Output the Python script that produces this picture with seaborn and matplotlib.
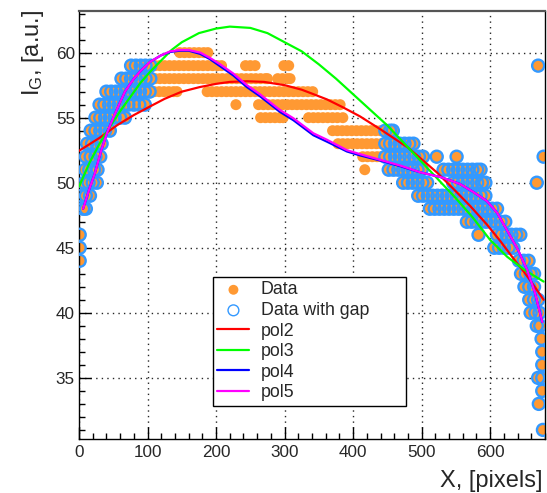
import matplotlib
matplotlib.use("Agg")
import matplotlib.pyplot as plt
from matplotlib.ticker import MultipleLocator
import numpy as np
import pandas as pd
import seaborn as sns

# ---------------- data ----------------
levels = [31, 33, 34, 35, 36, 37, 38, 39, 40, 41, 42, 43, 44, 45, 46, 47, 48, 49,
          50, 51, 52, 53, 54, 55, 56, 57, 58, 59, 60]
level_x = [
    [677],
    [671],
    [676],
    [670, 676],
    [676],
    [676],
    [675],
    [668, 673],
    [659, 666, 672],
    [657, 664, 670],
    [650, 657, 664],
    [645, 652, 659, 664],
    [1, 642, 649, 656],
    [1, 606, 613, 620, 627, 634],
    [1, 583, 610, 617, 624, 631, 638, 644],
    [566, 573, 580, 587, 594, 601, 608, 615, 622],
    [6, 10, 512, 519, 526, 533, 540, 547, 554, 561, 568, 575, 582, 589, 596, 603, 610],
    [4, 10, 16, 495, 502, 509, 516, 523, 530, 537, 544, 551, 558, 565, 572, 579, 586, 593],
    [8, 14, 20, 26, 473, 480, 487, 494, 501, 508, 546, 553, 560, 567, 574, 581, 588, 593, 668],
    [9, 15, 22, 27, 417, 452, 459, 466, 473, 480, 487, 494, 500, 532, 539, 546, 553, 560,
     567, 574, 581, 586],
    [10, 17, 24, 31, 414, 421, 428, 435, 441, 447, 454, 461, 468, 475, 482, 489, 496, 502,
     522, 551, 678],
    [12, 19, 26, 33, 378, 385, 392, 399, 406, 413, 420, 427, 434, 441, 447, 454, 461, 468,
     475, 482, 488],
    [17, 24, 31, 38, 45, 370, 377, 384, 391, 398, 405, 412, 419, 426, 433, 440, 447, 454, 458],
    [24, 31, 38, 45, 52, 60, 67, 265, 272, 279, 286, 293, 298, 335, 342, 349, 356, 363, 370,
     377, 385],
    [30, 37, 44, 51, 58, 65, 72, 80, 88, 96, 229, 262, 269, 276, 283, 290, 297, 304, 311, 318,
     325, 332, 339, 346, 353, 360, 367, 374, 381],
    [40, 47, 54, 61, 68, 75, 82, 89, 96, 103, 110, 117, 124, 131, 138, 143, 187, 194, 201, 208,
     215, 222, 229, 236, 243, 250, 257, 264, 271, 278, 285, 292, 299, 306, 313, 320, 327, 334, 341],
    [62, 69, 76, 83, 90, 97, 104, 111, 118, 125, 132, 139, 146, 153, 160, 167, 174, 181, 188,
     195, 202, 209, 216, 223, 230, 237, 244, 251, 258, 265, 272, 275, 290, 297, 304, 308],
    [76, 83, 90, 97, 104, 111, 118, 125, 132, 139, 146, 153, 160, 167, 174, 181, 188, 195, 202,
     208, 243, 250, 257, 299, 306, 670],
    [147, 154, 161, 168, 175, 182, 188],
]
gap_lo, gap_hi = 107, 443   # "Data with gap": points outside this x range

pol2_x = [0, 30, 55, 80, 105, 125, 150, 176, 200, 220, 245, 270, 300, 325, 340, 362, 385,
          410, 440, 460, 480, 500, 522, 545, 571, 595, 615, 635, 650, 665, 678]
pol2_y = [52.45, 53.45, 54.4, 55.2, 55.9, 56.45, 57.0, 57.35, 57.6, 57.75, 57.8, 57.75, 57.5,
          57.15, 56.85, 56.4, 55.8, 55.1, 54.1, 53.4, 52.7, 51.8, 50.8, 49.6, 48.2, 46.8,
          45.5, 44.1, 43.1, 42.0, 41.0]

pol3_x = [0, 15, 30, 45, 60, 75, 90, 105, 120, 135, 150, 175, 200, 220, 250, 275, 300, 325,
          350, 375, 400, 425, 450, 475, 500, 525, 550, 575, 600, 625, 650, 678]
pol3_y = [49.7, 51.5, 53.0, 54.3, 55.5, 56.6, 57.7, 58.6, 59.4, 60.2, 60.8, 61.5, 61.85, 62.0,
          61.9, 61.5, 60.8, 60.1, 59.1, 58.0, 56.8, 55.6, 54.4, 53.0, 51.6, 50.2, 48.8, 47.3,
          45.6, 44.3, 43.3, 42.4]

pol4_x = [6, 15, 23, 32, 42, 55, 67, 80, 90, 104, 120, 133, 147, 160, 177, 191, 206, 225, 245,
          264, 293, 313, 342, 362, 391, 410, 440, 470, 498, 530, 556, 575, 595, 610, 624, 640,
          654, 665, 676]
pol4_y = [48.0, 49.5, 50.7, 52.4, 54.0, 55.6, 57.0, 58.0, 58.6, 59.3, 59.8, 60.05, 60.15, 60.15,
          59.9, 59.5, 58.95, 58.25, 57.35, 56.65, 55.45, 54.8, 53.65, 53.15, 52.4, 52.1, 51.7,
          51.25, 50.8, 50.4, 49.9, 49.3, 48.6, 47.7, 46.4, 44.9, 43.3, 41.6, 39.3]

pol5_x = [6, 15, 23, 32, 42, 55, 67, 80, 90, 104, 120, 133, 147, 160, 177, 191, 206, 225, 245,
          264, 293, 313, 342, 362, 391, 410, 440, 470, 498, 530, 556, 575, 595, 610, 624, 640,
          654, 665, 676]
pol5_y = [48.0, 49.5, 50.7, 52.4, 54.0, 55.6, 57.0, 58.0, 58.6, 59.3, 59.8, 60.1, 60.2, 60.2,
          60.0, 59.6, 59.1, 58.4, 57.5, 56.8, 55.6, 54.95, 53.8, 53.3, 52.5, 52.2, 51.75, 51.3,
          50.8, 50.4, 49.9, 49.3, 48.6, 47.7, 46.4, 44.9, 43.3, 41.6, 39.3]

x_ticks = [0, 100, 200, 300, 400, 500, 600]
y_ticks = [35, 40, 45, 50, 55, 60]

# ---------------- build tables ----------------
data = pd.DataFrame({
    "x": [x for lv, xs in zip(levels, level_x) for x in xs],
    "y": [lv for lv, xs in zip(levels, level_x) for x in xs],
})
gap = data[(data["x"] < gap_lo) | (data["x"] > gap_hi)]

# ---------------- style ----------------
sns.set_theme(style="white")
plt.rcParams["font.family"] = ["Liberation Sans", "DejaVu Sans"]
plt.rcParams["mathtext.fontset"] = "custom"
plt.rcParams["mathtext.rm"] = "Liberation Sans"
plt.rcParams["mathtext.it"] = "Liberation Sans"

W, H = 547, 493
fig = plt.figure(figsize=(W / 100, H / 100), dpi=100)
L, R, T, B = 79, 545, 11, 439
ax = fig.add_axes([L / W, 1 - B / H, (R - L) / W, (B - T) / H])

orange = "#ff9933"
blue_ring = "#3399ff"
px = 0.72  # points per pixel

sns.scatterplot(data=data, x="x", y="y", ax=ax, color=orange, s=(11 * px) ** 2,
                linewidth=0, edgecolor="none", label="Data", zorder=2)
sns.scatterplot(data=gap, x="x", y="y", ax=ax, marker="o", s=(12 * px) ** 2,
                facecolor="none", edgecolor=blue_ring, linewidth=1.7,
                label="Data with gap", zorder=3)

lw = 2.2 * px
sns.lineplot(x=pol2_x, y=pol2_y, ax=ax, color="#ff0000", lw=lw, sort=False,
             estimator=None, label="pol2", zorder=4)
sns.lineplot(x=pol3_x, y=pol3_y, ax=ax, color="#00ff00", lw=lw, sort=False,
             estimator=None, label="pol3", zorder=4)
sns.lineplot(x=pol4_x, y=pol4_y, ax=ax, color="#0000ff", lw=lw, sort=False,
             estimator=None, label="pol4", zorder=4)
sns.lineplot(x=pol5_x, y=pol5_y, ax=ax, color="#ff00ff", lw=lw, sort=False,
             estimator=None, label="pol5", zorder=5)

ax.set_xlim(0, 680)
ax.set_ylim(30.3, 63.2)
ax.set_xticks(x_ticks)
ax.set_yticks(y_ticks)
ax.xaxis.set_minor_locator(MultipleLocator(20))
ax.yaxis.set_minor_locator(MultipleLocator(1))
ax.tick_params(which="major", direction="in", length=12 * px, width=1, color="black",
               labelsize=12.3, pad=4, bottom=True, left=True, top=False, right=False)
ax.tick_params(which="minor", direction="in", length=6 * px, width=1, color="black",
               bottom=True, left=True, top=False, right=False)
ax.tick_params(axis="y", which="major", pad=3)
ax.grid(True, which="major", linestyle=(0, (1, 3)), color="black", linewidth=1.0, alpha=0.85)
ax.set_axisbelow(True)
for s in ax.spines.values():
    s.set_color("black")
    s.set_linewidth(1.0)
ax.spines["top"].set_color("#555555")
ax.spines["top"].set_linewidth(1.6)

ax.set_xlabel("")
ax.set_ylabel("")
fig.text(543 / W, 1 - 487 / H, "X, [pixels]", ha="right", va="baseline", fontsize=17)
fig.text(33 / W, 1 - 10 / H, r"I$_\mathregular{G}$, [a.u.]", ha="center", va="top",
         rotation=90, fontsize=17)

leg_x0 = (213 - L) / (R - L)
leg_y0 = (B - 407) / (B - T)
leg_w = (406 - 213) / (R - L)
leg_h = (407 - 277) / (B - T)
leg = ax.legend(loc="upper left", bbox_to_anchor=(leg_x0, leg_y0, leg_w, leg_h),
                mode="expand", borderaxespad=0, fontsize=12.8, frameon=True,
                fancybox=False, framealpha=1, edgecolor="black", handlelength=1.8,
                handletextpad=0.65, labelspacing=0.2, borderpad=0.25, markerscale=0.9)
leg.get_frame().set_linewidth(1.0)
for h in leg.legend_handles[:2]:
    h.set_linewidth(1.0)

fig.savefig("out.png", dpi=100)
